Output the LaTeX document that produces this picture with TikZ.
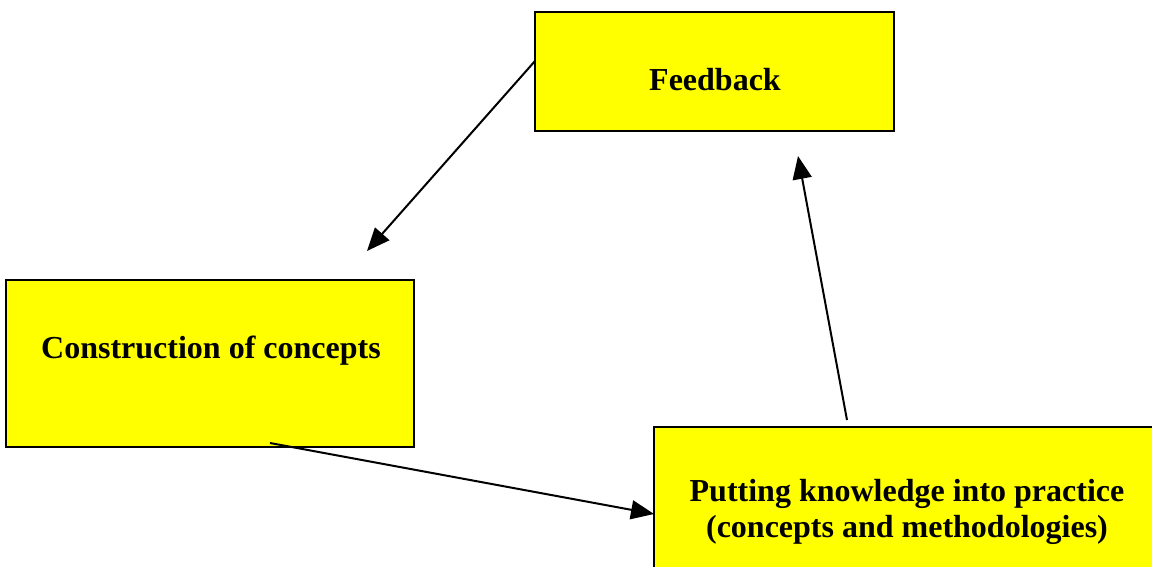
\documentclass[tikz,border=0pt]{standalone}
\usepackage{fontspec}
\setmainfont{Liberation Serif}
\usetikzlibrary{arrows.meta}
\definecolor{boxyellow}{RGB}{255,255,0}
\begin{document}
\begin{tikzpicture}[x=1pt,y=1pt,
  ybox/.style={draw=black, line width=2.2pt, fill=boxyellow, rectangle, inner sep=0pt},
  lbl/.style={font=\fontsize{32}{36}\selectfont\bfseries, align=center, inner sep=0pt},
  conn/.style={line width=2pt, -{Triangle[length=23pt,width=19pt]}}]
\clip (0,0) rectangle (1152,-566);
\fill[white] (0,0) rectangle (1152,-566);
% boxes
\node[ybox, minimum width=359pt, minimum height=119pt] (fb) at (714.5,-71.5) {};
\node[ybox, minimum width=408pt, minimum height=167pt] (cc) at (210,-363.5) {};
\node[ybox, minimum width=511pt, minimum height=153pt] (pk) at (909.5,-503.5) {};
% labels
\node[lbl] (fbt) at (715,-80) {Feedback};
\node[lbl] (cct) at (211,-351) {Construction of concepts};
\node[lbl] (pkt) at (907,-512) {Putting knowledge into practice\\(concepts and methodologies)};
% connector ends
\coordinate (a1s) at (535,-61);
\coordinate (a1e) at (367,-251);
\coordinate (a2s) at (270,-443);
\coordinate (a2e) at (654,-514);
\coordinate (a3s) at (847,-420);
\coordinate (a3e) at (798,-156);
\draw[conn] (a1s) -- (a1e);
\draw[conn] (a2s) -- (a2e);
\draw[conn] (a3s) -- (a3e);
\end{tikzpicture}
\end{document}
